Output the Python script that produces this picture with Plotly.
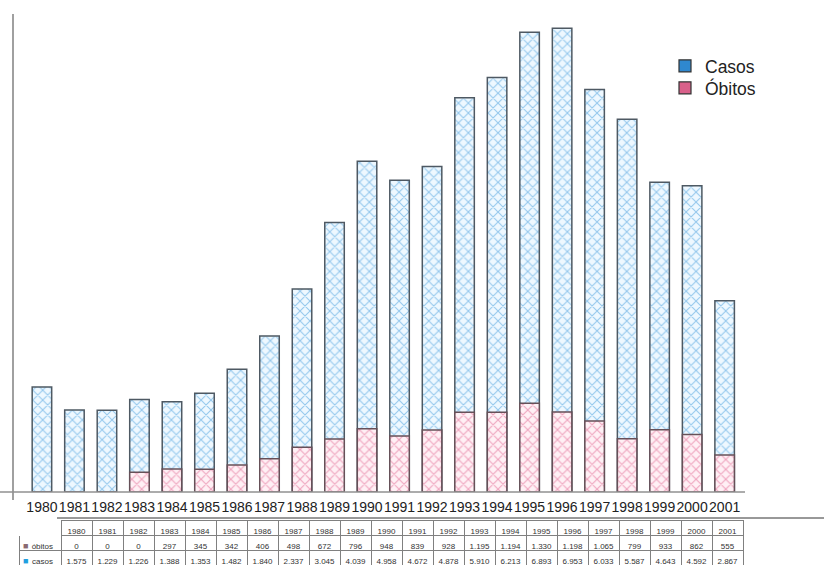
import plotly.graph_objects as go

# Annual series
anos = [str(a) for a in range(1980, 2002)]
obitos = [0, 0, 0, 297, 345, 342, 406, 498, 672, 796, 948, 839, 928,
          1195, 1194, 1330, 1198, 1065, 799, 933, 862, 555]
casos = [1575, 1229, 1226, 1388, 1353, 1482, 1840, 2337, 3045, 4039, 4958,
         4672, 4878, 5910, 6213, 6893, 6953, 6033, 5587, 4643, 4592, 2867]
rotulos = ["óbitos", "casos"]

COR_CASOS = "#2f88cf"
COR_OBITOS = "#d9608a"
W, H = 824, 565

TAB_X0, TAB_X1 = 19, 743
LABEL_W = 42
TAB_TOP = 520
ROW_H = 15


def px_x(v):
    return v / W


def px_y(v):
    return 1 - v / H


def fmt(v):
    return f"{v:,}".replace(",", ".")


fig = go.Figure()

# Patterned bars, deaths drawn over cases
fig.add_trace(go.Bar(
    x=anos, y=casos, name="Casos", showlegend=False, width=0.6,
    marker=dict(color="white", line=dict(color="#4e5963", width=1.5),
                pattern=dict(shape="x", fgcolor="#3a97da", bgcolor="#eef8ff",
                             size=7, solidity=0.28)),
))
fig.add_trace(go.Bar(
    x=anos, y=obitos, name="Óbitos", showlegend=False, width=0.6,
    marker=dict(color="white", line=dict(color="#665058", width=1.5),
                pattern=dict(shape="x", fgcolor="#dd5585", bgcolor="#fff0f5",
                             size=7, solidity=0.28)),
))

# Solid swatches for the legend (one legend box each)
fig.add_trace(go.Bar(x=[None], y=[None], name="Casos", legend="legend",
                     marker=dict(color=COR_CASOS, line=dict(color="#333", width=1.2))))
fig.add_trace(go.Bar(x=[None], y=[None], name="Óbitos", legend="legend2",
                     marker=dict(color=COR_OBITOS, line=dict(color="#333", width=1.2))))

# Data table under the chart
header_vals = [""] + anos
cell_vals = [rotulos] + [[fmt(o), fmt(c)] for o, c in zip(obitos, casos)]
year_w = (TAB_X1 - TAB_X0 - LABEL_W) / len(anos)
fig.add_trace(go.Table(
    domain=dict(x=[px_x(TAB_X0), px_x(TAB_X1)], y=[0, px_y(TAB_TOP)]),
    columnwidth=[LABEL_W] + [year_w] * len(anos),
    header=dict(values=header_vals, height=ROW_H,
                fill_color="white",
                line=dict(color=["white"] + ["#808080"] * len(anos), width=1),
                align="center",
                font=dict(family="Liberation Sans", size=8, color="#333")),
    cells=dict(values=cell_vals, height=ROW_H,
               fill_color="white",
               line=dict(color="#808080", width=1),
               align=["right"] + ["center"] * len(anos),
               font=dict(family="Liberation Sans", size=8, color="#333")),
))

# Colour keys beside the row labels
sq_cores = ["#8a6a72", "#1f9fe0"]
annotations = []
for i, cor in enumerate(sq_cores):
    yc = TAB_TOP + ROW_H * (i + 1) + ROW_H / 2 + 3
    annotations.append(dict(
        xref="paper", yref="paper", x=px_x(TAB_X0 + 2), y=px_y(yc),
        xanchor="left", yanchor="middle", showarrow=False,
        text="■", font=dict(size=9, color=cor),
    ))

legend_style = dict(xanchor="left", yanchor="top",
                    font=dict(size=17.5, color="#222"),
                    bgcolor="rgba(0,0,0,0)", itemwidth=30)

fig.update_layout(
    width=W, height=H,
    margin=dict(l=0, r=0, t=0, b=0),
    paper_bgcolor="white", plot_bgcolor="white",
    barmode="overlay", bargap=0.4,
    font=dict(family="Liberation Sans", color="#222"),
    xaxis=dict(domain=[px_x(13), px_x(750)], range=[-0.89, 21.78],
               showgrid=False, zeroline=False, showline=False, ticks="",
               tickangle=0, tickfont=dict(size=14, color="#222"), ticklen=0,
               ticklabelstandoff=5),
    yaxis=dict(domain=[px_y(492), px_y(14)], range=[0, 7166],
               showgrid=False, zeroline=False, showline=False,
               showticklabels=False, ticks=""),
    legend=dict(x=px_x(665), y=px_y(48), **legend_style),
    legend2=dict(x=px_x(665), y=px_y(70), **legend_style),
    annotations=annotations,
    shapes=[
        dict(type="line", xref="paper", yref="paper",
             x0=px_x(13), x1=px_x(13), y0=px_y(500), y1=px_y(14),
             line=dict(color="#a0a0a0", width=2)),
        dict(type="line", xref="paper", yref="paper",
             x0=0, x1=px_x(745), y0=px_y(492), y1=px_y(492),
             line=dict(color="#909090", width=1.5)),
        dict(type="line", xref="paper", yref="paper",
             x0=px_x(57), x1=1, y0=px_y(518), y1=px_y(518),
             line=dict(color="#333", width=1)),
    ],
)

fig.write_html("out.html")
